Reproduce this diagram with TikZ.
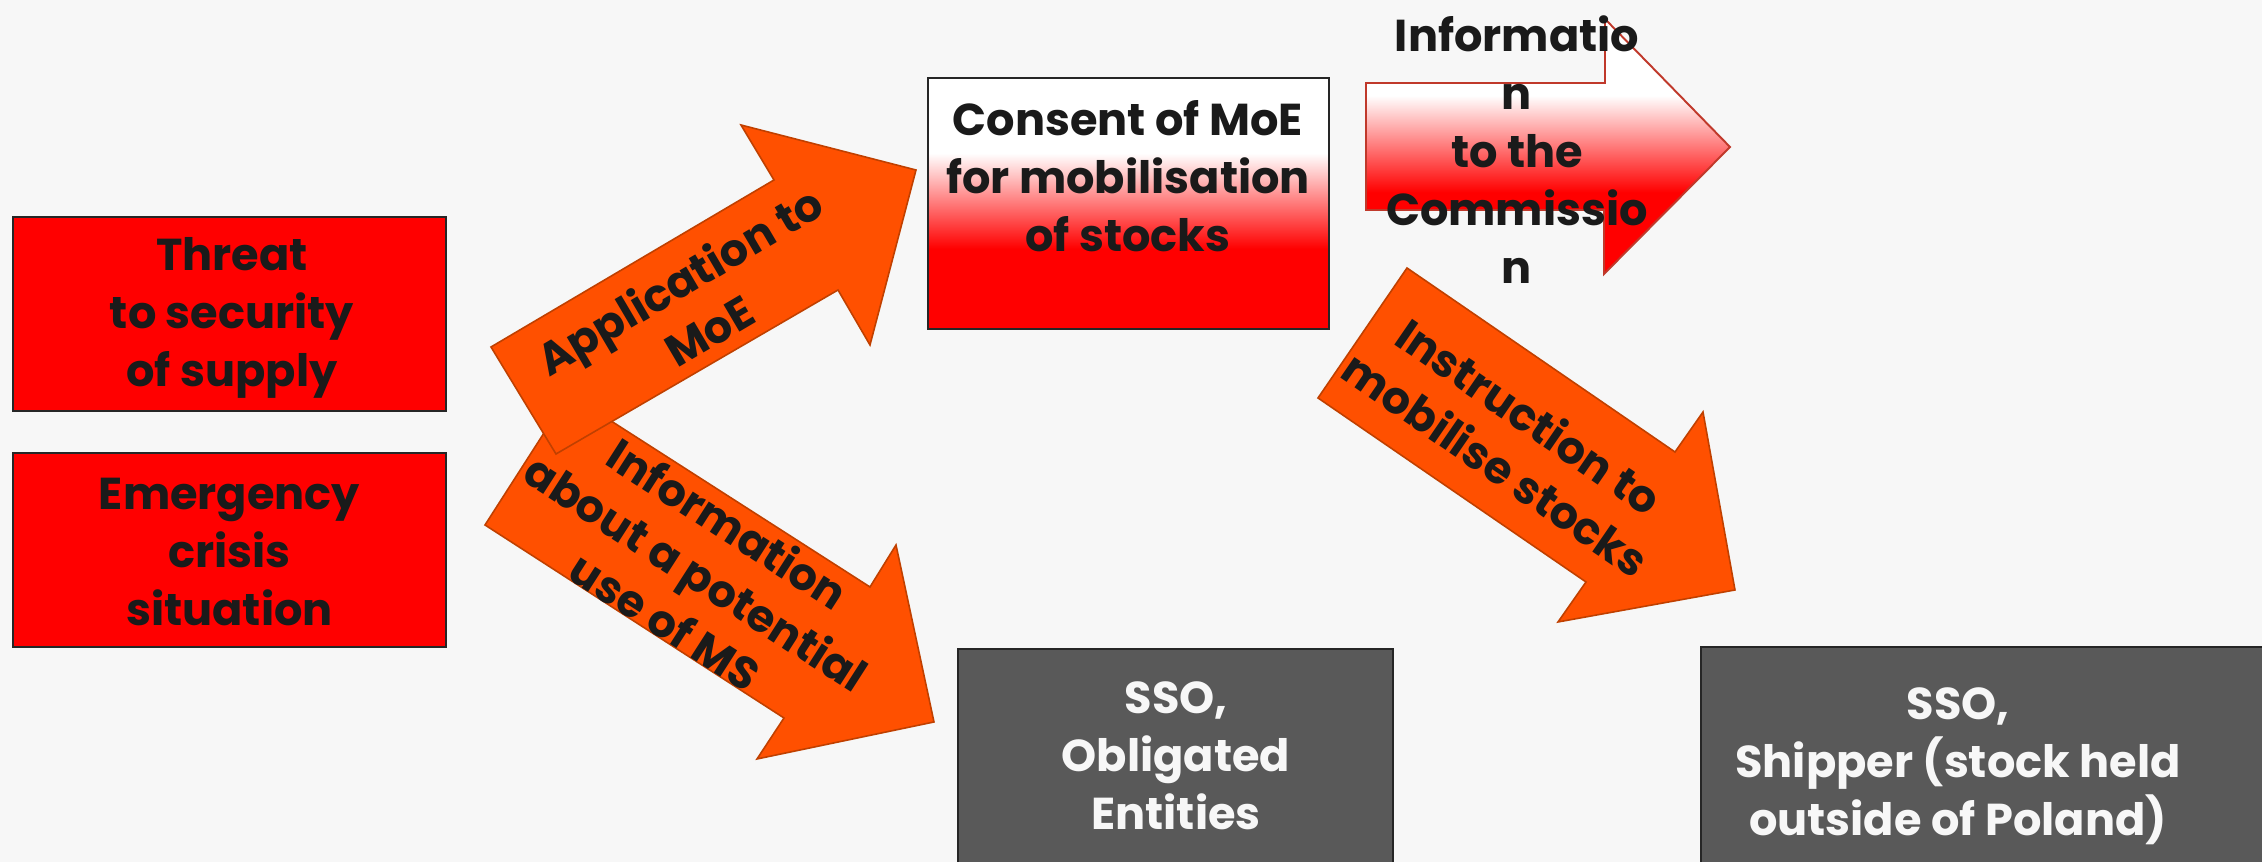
\documentclass[tikz,border=0pt]{standalone}
\usepackage{fontspec}
\setmainfont{Poppins}
\definecolor{bg}{HTML}{F7F7F7}
\definecolor{boxred}{HTML}{FF0000}
\definecolor{boxline}{HTML}{262626}
\definecolor{arroworange}{HTML}{FF5000}
\definecolor{arrowline}{HTML}{C04000}
\definecolor{commline}{HTML}{C0392B}
\definecolor{txt}{HTML}{1A1A1A}
\definecolor{grey}{HTML}{595959}
\definecolor{wtxt}{HTML}{F7F7F7}
\pgfdeclareverticalshading{whitered}{100bp}{color(0bp)=(boxred); color(41bp)=(boxred); color(60bp)=(white); color(100bp)=(white)}
\tikzset{
  lbl/.style={font=\fontsize{12.7}{16.5}\selectfont\bfseries, text=txt, align=center, inner sep=0pt},
  wlbl/.style={lbl, text=wtxt},
  redbox/.style={draw=boxline, line width=0.6pt, fill=boxred, inner sep=0pt},
  greybox/.style={draw=boxline, line width=0.6pt, fill=grey, inner sep=0pt},
  shadebox/.style={draw=boxline, line width=0.6pt, shade, shading=whitered, inner sep=0pt},
  orangearrow/.style={draw=arrowline, line width=0.45pt, fill=arroworange, line join=miter},
  commarrow/.style={draw=commline, line width=0.55pt, shade, shading=whitered, line join=miter}
}
\begin{document}
\begin{tikzpicture}[x=0.01cm, y=-0.01cm]
\useasboundingbox (0,0) rectangle (2262,862);
\fill[bg] (0,0) rectangle (2262,862);
\begin{scope}
\clip (0,0) rectangle (2262,862);

% left boxes
\node[redbox, minimum width=4.33cm, minimum height=1.94cm] (threat) at (229.5,314) {};
\node[lbl] (threatT) at (232,318) {Threat\\to security\\of supply};
\node[redbox, minimum width=4.33cm, minimum height=1.94cm] (crisis) at (229.5,550) {};
\node[lbl] (crisisT) at (229.5,552) {Emergency\\crisis\\situation};

% consent box
\node[shadebox, minimum width=4.01cm, minimum height=2.51cm] (consent) at (1128.5,203.5) {};
\node[lbl] (consentT) at (1128,176) {Consent of MoE\\for mobilisation\\of stocks};

% bottom grey boxes
\node[greybox, minimum width=4.35cm, minimum height=3cm] (oblig) at (1175.5,799) {};
\node[wlbl] (obligT) at (1176,756) {SSO,\\Obligated\\Entities};
\node[greybox, minimum width=6cm, minimum height=3cm] (shipper) at (2001,797) {};
\node[wlbl] (shipperT) at (1958,766) {SSO,\\Shipper (stock held\\outside of Poland)};

% information arrow (down-right)
\draw[orangearrow] (569,394) -- (870,587) -- (896,545) -- (934,722) -- (757,759) -- (784,718) -- (485,525) -- cycle;
\node[lbl, rotate=-32.7] (infoT) at (697,572) {Information\\about a potential\\use of MS};

% application arrow (up-right)
\draw[orangearrow] (491,347) -- (774,180) -- (741,125) -- (916,170) -- (870,345) -- (838,290) -- (556,454) -- cycle;
\node[lbl, rotate=30.5] (applT) at (694,305) {Application to\\MoE};

% instruction arrow
\draw[orangearrow] (1407,268) -- (1675,452) -- (1703,412) -- (1735,590) -- (1558,622) -- (1586,582) -- (1318,398) -- cycle;
\node[lbl, rotate=-34.5] (instrT) at (1513,440) {Instruction to\\mobilise stocks};

% information to the commission arrow
\draw[commarrow] (1366,83) -- (1605,83) -- (1605,19) -- (1730,147) -- (1604,274) -- (1604,210) -- (1366,210) -- cycle;
\node[lbl] (commT) at (1517,150) {Informatio\\n\\to the\\Commissio\\n};

\end{scope}
\end{tikzpicture}
\end{document}
